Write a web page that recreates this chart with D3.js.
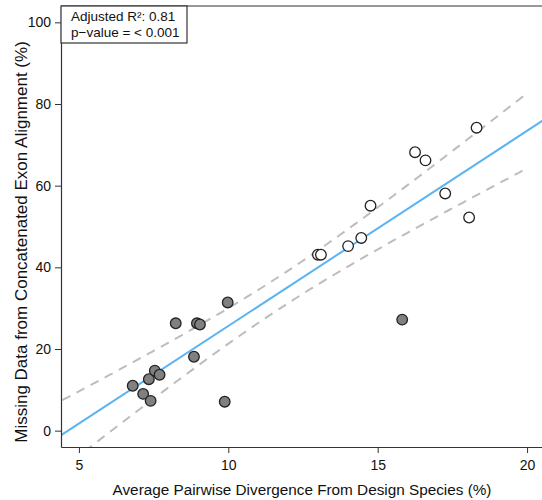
<!DOCTYPE html>
<html>
<head>
<meta charset="utf-8">
<script src="https://cdn.jsdelivr.net/npm/d3@7"></script>
<style>
  body { margin: 0; background: #fff; }
  text { font-family: "Liberation Sans", Arial, sans-serif; fill: #111; }
</style>
</head>
<body>
<div id="chart"></div>
<script>
// low divergence species (filled grey)
const grayX = [6.80, 7.15, 7.40, 7.34, 7.54, 7.70, 8.24, 8.85, 8.95, 9.05, 9.88, 9.98, 15.82];
const grayY = [11.0, 9.0, 7.3, 12.6, 14.7, 13.7, 26.3, 18.1, 26.3, 26.0, 7.1, 31.4, 27.2];
// high divergence species (open)
const openX = [13.00, 13.10, 14.01, 14.45, 14.76, 16.25, 16.60, 17.26, 18.06, 18.31];
const openY = [43.1, 43.1, 45.2, 47.2, 55.1, 68.2, 66.2, 58.1, 52.2, 74.2];

const xTicks = [5, 10, 15, 20];
const yTicks = [0, 20, 40, 60, 80, 100];
const statLines = ["Adjusted R\u00b2: 0.81", "p\u2212value = < 0.001"];

const width = 542, height = 500;
const margin = { top: 6, right: -3, bottom: 53, left: 61 };

const svg = d3.select("#chart").append("svg")
  .attr("width", width)
  .attr("height", height);

const x = d3.scaleLinear().domain([4.4, 20.6]).range([margin.left, width - margin.right]);
const y = d3.scaleLinear().domain([-4, 104]).range([height - margin.bottom, margin.top]);

svg.append("defs").append("clipPath").attr("id", "plotclip")
  .append("rect")
  .attr("x", x.range()[0]).attr("y", y.range()[1])
  .attr("width", x.range()[1] - x.range()[0])
  .attr("height", y.range()[0] - y.range()[1]);

// linear model
const allX = grayX.concat(openX);
const allY = grayY.concat(openY);
const n = allX.length;
const mx = d3.mean(allX), my = d3.mean(allY);
let sxx = 0, sxy = 0;
allX.forEach((v, i) => { sxx += (v - mx) ** 2; sxy += (v - mx) * (allY[i] - my); });
const slope = sxy / sxx;
const intercept = my - slope * mx;
let sse = 0;
allX.forEach((v, i) => { sse += (allY[i] - (intercept + slope * v)) ** 2; });
const s = Math.sqrt(sse / (n - 2));
const tq = 2.0796; // t(0.975, 21)

const plot = svg.append("g").attr("clip-path", "url(#plotclip)");

// confidence band
const grid = d3.range(0, 101).map(i => 3.5 + (20 - 3.5) * i / 100);
const band = sign => grid.map(v => {
  const se = s * Math.sqrt(1 / n + (v - mx) ** 2 / sxx);
  return [v, intercept + slope * v + sign * tq * se];
});
const line = d3.line().x(d => x(d[0])).y(d => y(d[1]));
[1, -1].forEach(sg => {
  plot.append("path")
    .attr("d", line(band(sg)))
    .attr("fill", "none")
    .attr("stroke", "#bdbdbd")
    .attr("stroke-width", 2)
    .attr("stroke-dasharray", "9,7");
});

// fit line
plot.append("line")
  .attr("x1", x(3)).attr("y1", y(intercept + slope * 3))
  .attr("x2", x(22)).attr("y2", y(intercept + slope * 22))
  .attr("stroke", "#5bb4f2")
  .attr("stroke-width", 2);

// points
plot.selectAll(".gray").data(grayX).enter()
  .append("circle")
  .attr("cx", d => x(d))
  .attr("cy", (d, i) => y(grayY[i]))
  .attr("r", 5.3)
  .attr("fill", "#808080")
  .attr("stroke", "#222")
  .attr("stroke-width", 1.3);

plot.selectAll(".open").data(openX).enter()
  .append("circle")
  .attr("cx", d => x(d))
  .attr("cy", (d, i) => y(openY[i]))
  .attr("r", 5.3)
  .attr("fill", "#fff")
  .attr("stroke", "#222")
  .attr("stroke-width", 1.3);

// axes
const xAxis = svg.append("g")
  .attr("transform", `translate(0,${y.range()[0]})`)
  .call(d3.axisBottom(x).tickValues(xTicks).tickSize(6).tickPadding(7).tickSizeOuter(0));
const yAxis = svg.append("g")
  .attr("transform", `translate(${x.range()[0]},0)`)
  .call(d3.axisLeft(y).tickValues(yTicks).tickSize(6).tickPadding(4).tickSizeOuter(0));
[xAxis, yAxis].forEach(g => {
  g.select(".domain").attr("stroke", "#333").attr("stroke-width", 1.2);
  g.selectAll(".tick line").attr("stroke", "#333");
  g.selectAll(".tick text").attr("font-size", 14).attr("fill", "#111")
    .attr("font-family", "Liberation Sans, Arial, sans-serif");
});

// top frame edge
svg.append("line")
  .attr("x1", x.range()[0]).attr("x2", width)
  .attr("y1", y.range()[1]).attr("y2", y.range()[1])
  .attr("stroke", "#333").attr("stroke-width", 1.2);

// stats box
svg.append("rect")
  .attr("x", x.range()[0]).attr("y", y.range()[1])
  .attr("width", 126).attr("height", 37)
  .attr("fill", "#fff").attr("stroke", "#333").attr("stroke-width", 1.2);
statLines.forEach((t, i) => {
  svg.append("text")
    .attr("x", 71)
    .attr("y", 21 + i * 16)
    .attr("font-size", 13.5)
    .text(t);
});

// axis titles
svg.append("text")
  .attr("x", 302)
  .attr("y", 495)
  .attr("text-anchor", "middle")
  .attr("font-size", 15.3)
  .text("Average Pairwise Divergence From Design Species (%)");

svg.append("text")
  .attr("transform", `translate(27,242) rotate(-90)`)
  .attr("text-anchor", "middle")
  .attr("font-size", 17)
  .text("Missing Data from Concatenated Exon Alignment (%)");
</script>
</body>
</html>
